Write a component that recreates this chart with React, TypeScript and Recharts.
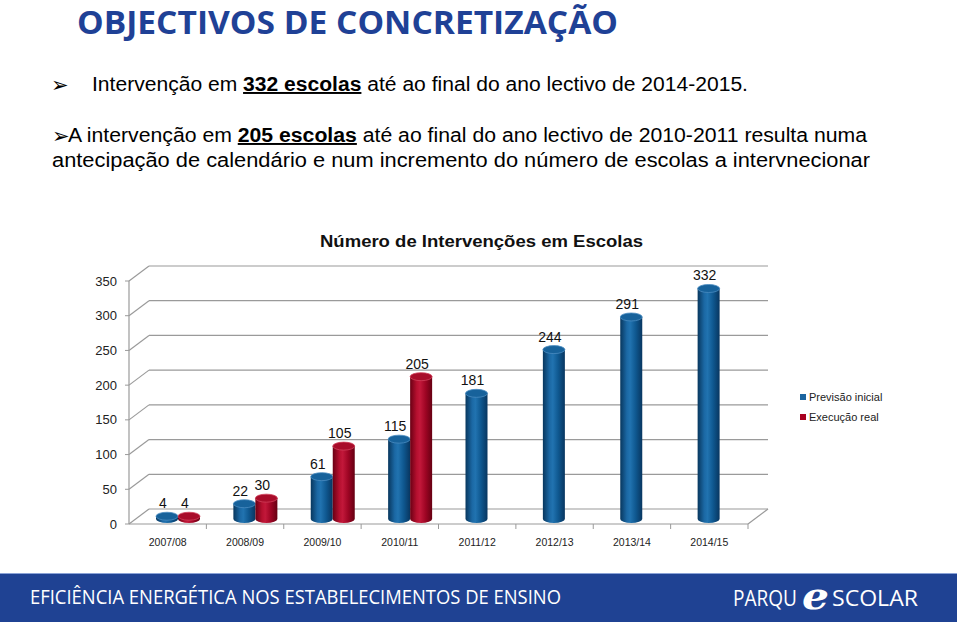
import React from 'react';
import { BarChart, Bar, XAxis, YAxis, CartesianGrid, LabelList, Legend } from 'recharts';

const years = ['2007/08', '2008/09', '2009/10', '2010/11', '2011/12', '2012/13', '2013/14', '2014/15'];
const previsaoInicial = [4, 22, 61, 115, 181, 244, 291, 332];
const execucaoReal: (number | null)[] = [4, 30, 105, 205, null, null, null, null];
const yTicks = [0, 50, 100, 150, 200, 250, 300, 350];
const seriesNames = ['Previsão inicial', 'Execução real'];
const chartTitle = 'Número de Intervenções em Escolas';

const data = years.map((y, i) => ({ year: y, prev: previsaoInicial[i], exec: execucaoReal[i] }));

const GRID = '#9a9a9a';
const FRONT = 5;
const BACK = -10;
const DEPTH = 20;
const SHIFT = 10;

const gridLine = (p: any) => {
  const { x1, x2, y1 } = p;
  const top = typeof p.y === 'number' ? p.y : 276;
  const h = typeof p.height === 'number' ? p.height : 243;
  const bottom = top + h;
  const isFloor = Math.abs(y1 - bottom) < 1;
  const isTop = Math.abs(y1 - top) < 1;
  return (
    <g key={p.key}>
      <line x1={x1 + DEPTH} y1={y1 + BACK} x2={x2 + DEPTH} y2={y1 + BACK} stroke={GRID} strokeWidth={1.2} />
      <line x1={x1} y1={y1 + FRONT} x2={x1 + DEPTH} y2={y1 + BACK} stroke={GRID} strokeWidth={1.2} />
      {isFloor && (
        <>
          <line x1={x1} y1={y1 + FRONT} x2={x2} y2={y1 + FRONT} stroke={GRID} strokeWidth={1.2} />
          <line x1={x2} y1={y1 + FRONT} x2={x2 + DEPTH} y2={y1 + BACK} stroke={GRID} strokeWidth={1.2} />
        </>
      )}
      {isTop && <line x1={x1} y1={y1 + FRONT} x2={x1} y2={bottom + FRONT} stroke={GRID} strokeWidth={1.2} />}
    </g>
  );
};

const makeCyl = (kind: 'blue' | 'red') => (p: any) => {
  const { x, y, width, height, value } = p;
  if (value == null || height == null || isNaN(y)) return <g />;
  const xs = x + SHIFT;
  const w = width;
  const rx = w / 2;
  const ry = 4;
  const yb = y + height;
  const d = `M${xs},${y} L${xs},${yb} A${rx},${ry} 0 0 0 ${xs + w},${yb} L${xs + w},${y} Z`;
  const topFill = kind === 'blue' ? '#17629b' : '#a80c2a';
  const topStroke = kind === 'blue' ? '#4a8cc0' : '#d0405a';
  return (
    <g>
      <path d={d} fill={`url(#cyl-${kind})`} />
      <ellipse cx={xs + rx} cy={y} rx={rx} ry={ry} fill={topFill} stroke={topStroke} strokeWidth={0.8} />
    </g>
  );
};

const renderLabel = (p: any) => {
  const { x, y, width, value } = p;
  if (value == null) return null;
  return (
    <text x={x + SHIFT + width / 2 - 4} y={y - 8} textAnchor="middle" fontSize={14} fill="#111"
      fontFamily="'Liberation Sans', Arial, sans-serif">{value}</text>
  );
};

const XTick = (p: any) => {
  const { x, payload } = p;
  return (
    <g>
      <text x={x} y={546} textAnchor="middle" fontSize={10.5} fill="#222"
        fontFamily="'Liberation Sans', Arial, sans-serif">{payload.value}</text>
      <line x1={x + 38.7} y1={524} x2={x + 38.7} y2={529} stroke={GRID} strokeWidth={1} />
    </g>
  );
};

const YTick = (p: any) => {
  const { y, payload } = p;
  return (
    <g>
      <text x={117} y={y + FRONT} dy="0.35em" textAnchor="end" fontSize={13} fill="#222"
        fontFamily="'Liberation Sans', Arial, sans-serif">{payload.value}</text>
      <line x1={125} y1={y + FRONT} x2={129} y2={y + FRONT} stroke={GRID} strokeWidth={1} />
    </g>
  );
};

const LegendContent = () => (
  <div style={{ fontFamily: "'Liberation Sans', Arial, sans-serif", fontSize: 11, color: '#222' }}>
    {seriesNames.map((n, i) => (
      <div key={n} style={{ display: 'flex', alignItems: 'center', height: 20 }}>
        <span style={{ width: 6, height: 6, background: i === 0 ? '#1a64a0' : '#a8001f', marginRight: 3, display: 'inline-block' }} />
        <span>{n}</span>
      </div>
    ))}
  </div>
);

export default function App() {
  const sans = "'Liberation Sans', Arial, sans-serif";
  return (
    <div style={{ position: 'absolute', left: 0, top: 0, width: 960, height: 625, background: '#fff', overflow: 'hidden' }}>
      <svg width={960} height={625} style={{ position: 'absolute', left: 0, top: 0 }}>
        <defs>
          <linearGradient id="cyl-blue" x1="0" y1="0" x2="1" y2="0">
            <stop offset="0%" stopColor="#08375e" />
            <stop offset="30%" stopColor="#1b68a4" />
            <stop offset="45%" stopColor="#2173b0" />
            <stop offset="70%" stopColor="#0f5890" />
            <stop offset="100%" stopColor="#083660" />
          </linearGradient>
          <linearGradient id="cyl-red" x1="0" y1="0" x2="1" y2="0">
            <stop offset="0%" stopColor="#6a0014" />
            <stop offset="30%" stopColor="#b5102f" />
            <stop offset="45%" stopColor="#c2183a" />
            <stop offset="70%" stopColor="#9e0524" />
            <stop offset="100%" stopColor="#660012" />
          </linearGradient>
        </defs>
        <text x={77} y={34} fontSize={32} fontWeight="bold" fill="#1f4196" fontFamily="'Open Sans', sans-serif"
          textLength={541} lengthAdjust="spacingAndGlyphs">OBJECTIVOS DE CONCRETIZAÇÃO</text>

        <text x={51} y={92} fontSize={21} fill="#000" fontFamily="'DejaVu Sans', sans-serif">➢</text>
        <text x={92} y={91} fontSize={19.5} fill="#000" fontFamily={sans} textLength={656} lengthAdjust="spacingAndGlyphs">
          Intervenção em <tspan fontWeight="bold" textDecoration="underline">332 escolas</tspan> até ao final do ano lectivo de 2014-2015.
        </text>

        <text x={52} y={143} fontSize={21} fill="#000" fontFamily="'DejaVu Sans', sans-serif">➢</text>
        <text x={68} y={142} fontSize={19.5} fill="#000" fontFamily={sans} textLength={799} lengthAdjust="spacingAndGlyphs">
          A intervenção em <tspan fontWeight="bold" textDecoration="underline">205 escolas</tspan> até ao final do ano lectivo de 2010-2011 resulta numa
        </text>
        <text x={52} y={167} fontSize={19.5} fill="#000" fontFamily={sans} textLength={818} lengthAdjust="spacingAndGlyphs">
          antecipação de calendário e num incremento do número de escolas a intervnecionar
        </text>

        <text x={320} y={247} fontSize={16.5} fontWeight="bold" fill="#111" fontFamily={sans}
          textLength={323} lengthAdjust="spacingAndGlyphs">{chartTitle}</text>

        <rect x={0} y={573} width={957} height={49} fill="#1f4293" />
        <line x1={0} y1={573.5} x2={957} y2={573.5} stroke="#8aa2d6" strokeWidth={1} />
        <text x={30} y={604} fontSize={20} fill="#fff" fontFamily="'Open Sans', sans-serif"
          textLength={531} lengthAdjust="spacingAndGlyphs">EFICIÊNCIA ENERGÉTICA NOS ESTABELECIMENTOS DE ENSINO</text>
        <text x={733} y={606} fontSize={22} fill="#fff" fontFamily="'Open Sans', sans-serif"
          textLength={64} lengthAdjust="spacingAndGlyphs">PARQU</text>
        <text x={802} y={609} fontSize={38} fontStyle="italic" fontWeight="bold" fill="#fff" fontFamily="'DejaVu Serif', serif"
          textLength={27} lengthAdjust="spacingAndGlyphs">e</text>
        <text x={832} y={606} fontSize={22} fill="#fff" fontFamily="'Open Sans', sans-serif"
          textLength={86} lengthAdjust="spacingAndGlyphs">SCOLAR</text>
      </svg>

      <div style={{ position: 'absolute', left: 0, top: 0 }}>
        <BarChart width={960} height={570} data={data} barSize={22} barGap={0}
          margin={{ top: 276, right: 212, left: 99, bottom: 21 }}>
          <CartesianGrid vertical={false} horizontal={gridLine} />
          <XAxis dataKey="year" axisLine={false} tickLine={false} height={30} tick={<XTick />} interval={0} />
          <YAxis domain={[0, 350]} ticks={yTicks} axisLine={false} tickLine={false} width={30} tick={<YTick />} />
          <Legend content={<LegendContent />} layout="vertical" align="center" verticalAlign="middle"
            wrapperStyle={{ position: 'absolute', left: 800, top: 387, width: 130, height: 40 }} />
          <Bar dataKey="prev" name={seriesNames[0]} fill="#1a64a0" shape={makeCyl('blue')} isAnimationActive={false}>
            <LabelList dataKey="prev" content={renderLabel} />
          </Bar>
          <Bar dataKey="exec" name={seriesNames[1]} fill="#a8001f" shape={makeCyl('red')} isAnimationActive={false}>
            <LabelList dataKey="exec" content={renderLabel} />
          </Bar>
        </BarChart>
      </div>
    </div>
  );
}
